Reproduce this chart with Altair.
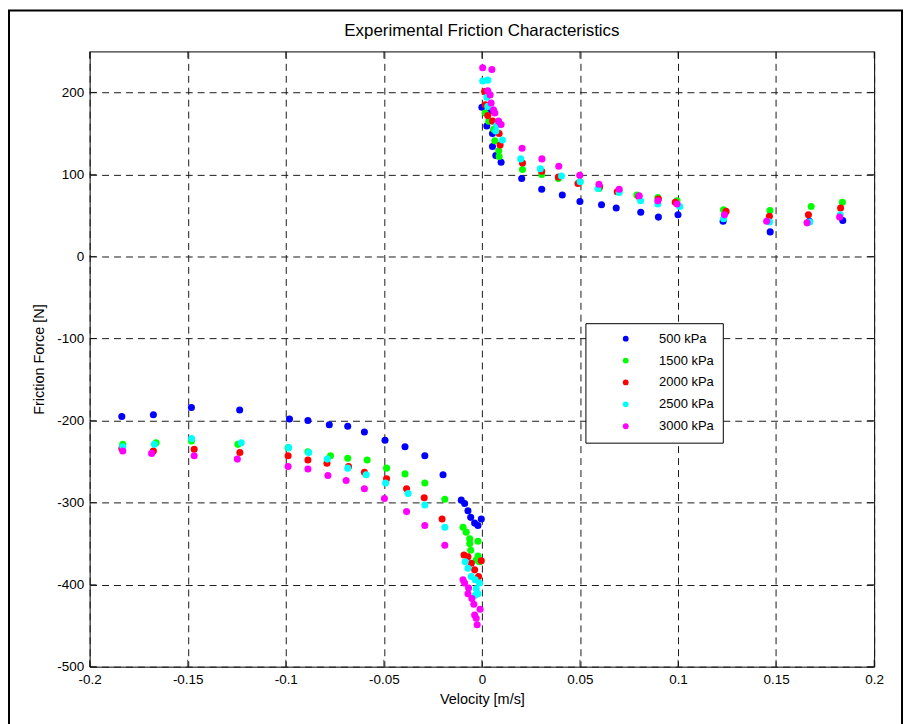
import altair as alt
import pandas as pd

series_names = ["500 kPa", "1500 kPa", "2000 kPa", "2500 kPa", "3000 kPa"]
series_colors = ["#0000FF", "#00FF00", "#FF0000", "#00FFFF", "#FF00FF"]

v_500 = [0.0000, 0.0025, 0.0037, 0.0054, 0.0054, 0.0071, 0.0098, 0.0203, 0.0305, 0.0410, 0.0500, 0.0610,
         0.0685, 0.0810, 0.0900, 0.1000, 0.1230, 0.1470, 0.1670, 0.1840,
         -0.1836, -0.1675, -0.1481, -0.1235, -0.0981, -0.0887, -0.0778, -0.0684, -0.0599, -0.0494,
         -0.0392, -0.0291, -0.0198, -0.0105, -0.0088, -0.0071, -0.0057, -0.0037, -0.0020, -0.0003]
f_500 = [182, 159, 177, 150, 134, 123, 115, 95, 82, 75, 67, 63,
         59, 54, 48, 51, 43, 30, 43, 44,
         -195, -193, -184, -187, -198, -200, -205, -207, -214, -224,
         -232, -243, -266, -297, -301, -310, -318, -325, -328, -320]

v_1500 = [0.0017, 0.0035, 0.0060, 0.0066, 0.0086, 0.0088, 0.0207, 0.0305, 0.0390, 0.0500, 0.0597, 0.0700,
          0.0790, 0.0897, 0.0995, 0.1232, 0.1469, 0.1679, 0.1838,
          -0.1831, -0.1661, -0.1481, -0.1244, -0.0988, -0.0887, -0.0772, -0.0684, -0.0585, -0.0486,
          -0.0392, -0.0291, -0.0189, -0.0096, -0.0080, -0.0062, -0.0062, -0.0057, -0.0020, -0.0020,
          -0.0029, -0.0012]
f_1500 = [175, 165, 155, 141, 129, 122, 106, 100, 95, 91, 83, 80,
          75, 72, 68, 57, 56, 61, 66,
          -229, -227, -225, -229, -233, -238, -243, -246, -248, -258,
          -265, -276, -296, -330, -336, -344, -350, -358, -347, -365,
          -370, -372]

v_2000 = [0.0014, 0.0017, 0.0030, 0.0055, 0.0088, 0.0093, 0.0207, 0.0305, 0.0390, 0.0490, 0.0600, 0.0690,
          0.0800, 0.0900, 0.0986, 0.1245, 0.1466, 0.1665, 0.1829,
          -0.1836, -0.1675, -0.1467, -0.1234, -0.0988, -0.0887, -0.0790, -0.0680, -0.0599, -0.0486,
          -0.0384, -0.0294, -0.0203, -0.0091, -0.0071, -0.0054, -0.0037, -0.0017, -0.0003]
f_2000 = [201, 185, 172, 165, 150, 136, 114, 104, 97, 89, 85, 79,
          73, 70, 66, 55, 49, 51, 59,
          -234, -237, -235, -239, -243, -248, -252, -256, -263, -271,
          -283, -294, -320, -364, -366, -374, -382, -390, -371]

v_2500 = [0.0004, 0.0030, 0.0025, 0.0030, 0.0071, 0.0076, 0.0105, 0.0198, 0.0298, 0.0406, 0.0501, 0.0592,
          0.0700, 0.0809, 0.0897, 0.1009, 0.1232, 0.1467, 0.1672, 0.1827,
          -0.1831, -0.1670, -0.1480, -0.1227, -0.0985, -0.0883, -0.0788, -0.0684, -0.0590, -0.0491,
          -0.0376, -0.0291, -0.0189, -0.0085, -0.0071, -0.0054, -0.0034, -0.0012, -0.0029, -0.0020,
          -0.0034]
f_2500 = [214, 215, 194, 183, 153, 160, 142, 119, 107, 98, 91, 83,
          78, 68, 64, 61, 46, 42, 42, 51,
          -232, -229, -222, -227, -233, -239, -247, -258, -266, -276,
          -289, -303, -330, -372, -380, -390, -394, -398, -405, -411,
          -413]

v_3000 = [0.0004, 0.0051, 0.0030, 0.0042, 0.0047, 0.0059, 0.0066, 0.0085, 0.0098, 0.0205, 0.0306, 0.0392,
          0.0499, 0.0597, 0.0700, 0.0802, 0.0897, 0.0995, 0.1237, 0.1452, 0.1658, 0.1824,
          -0.1831, -0.1684, -0.1467, -0.1247, -0.0988, -0.0887, -0.0785, -0.0692, -0.0599, -0.0497,
          -0.0384, -0.0291, -0.0189, -0.0096, -0.0088, -0.0068, -0.0071, -0.0051, -0.0041, -0.0009,
          -0.0037, -0.0029, -0.0024]
f_3000 = [230, 228, 202, 197, 187, 179, 175, 165, 161, 132, 119, 110,
          99, 88, 82, 74, 68, 64, 51, 43, 41, 48,
          -237, -240, -243, -247, -256, -259, -267, -273, -283, -295,
          -311, -328, -352, -394, -398, -404, -411, -417, -424, -430,
          -437, -441, -449]

x_ticks = [-0.2, -0.15, -0.1, -0.05, 0, 0.05, 0.1, 0.15, 0.2]
y_ticks = [-500, -400, -300, -200, -100, 0, 100, 200]

all_v = [v_500, v_1500, v_2000, v_2500, v_3000]
all_f = [f_500, f_1500, f_2000, f_2500, f_3000]
rows = []
for name, vs, fs in zip(series_names, all_v, all_f):
    for v, f in zip(vs, fs):
        rows.append({"v": v, "f": f, "series": name})
df = pd.DataFrame(rows)

W, H = 788, 618
FONT = "Liberation Sans"
xs = alt.Scale(domain=[-0.2, 0.2], nice=False, zero=False)
ys = alt.Scale(domain=[-500, 250], nice=False, zero=False)

common = dict(grid=True, gridDash=[7, 5], gridColor="#1a1a1a", gridWidth=1, ticks=False,
              domain=False, labelFlush=False, labelFont=FONT, titleFont=FONT,
              labelFontSize=13.5, titleFontSize=14.5, titleFontWeight="normal",
              labelColor="black", titleColor="black")
x_axis = alt.Axis(values=x_ticks, labelExpr="toString(datum.value)", title="Velocity [m/s]",
                  labelPadding=6, titlePadding=6, **common)
y_axis = alt.Axis(values=y_ticks, labelExpr="toString(datum.value)", title="Friction Force [N]",
                  labelPadding=6, titlePadding=10, **common)

points = alt.Chart(df).mark_circle(size=50, opacity=1).encode(
    x=alt.X("v:Q", scale=xs, axis=x_axis),
    y=alt.Y("f:Q", scale=ys, axis=y_axis),
    color=alt.Color("series:N", scale=alt.Scale(domain=series_names, range=series_colors),
                    legend=alt.Legend(title=None, orient="none", legendX=498, legendY=273,
                                      strokeColor="black", fillColor="white", padding=9,
                                      symbolType="circle", symbolSize=34, symbolStrokeWidth=0,
                                      labelFontSize=13, labelFont=FONT, labelColor="black",
                                      rowPadding=8, symbolOffset=25, labelOffset=27,
                                      cornerRadius=0)),
)

xt = pd.DataFrame({"v": x_ticks})
yt = pd.DataFrame({"f": y_ticks})
tick_bottom = alt.Chart(xt).mark_tick(color="black", thickness=1, size=7).encode(
    x=alt.X("v:Q", scale=xs, axis=x_axis), y=alt.value(H - 3.5))
tick_top = alt.Chart(xt).mark_tick(color="black", thickness=1, size=7).encode(
    x=alt.X("v:Q", scale=xs, axis=x_axis), y=alt.value(3.5))
tick_left = alt.Chart(yt).mark_tick(color="black", thickness=1, size=7).encode(
    y=alt.Y("f:Q", scale=ys, axis=y_axis), x=alt.value(3.5))
tick_right = alt.Chart(yt).mark_tick(color="black", thickness=1, size=7).encode(
    y=alt.Y("f:Q", scale=ys, axis=y_axis), x=alt.value(W - 3.5))

frame = alt.Chart(pd.DataFrame({"a": [0]})).mark_rect(
    fillOpacity=0, stroke="black", strokeWidth=2).encode(
    x=alt.value(-81), x2=alt.value(816), y=alt.value(-41), y2=alt.value(700))

chart = alt.layer(frame, tick_bottom, tick_top, tick_left, tick_right, points).properties(
    width=W, height=H,
    title=alt.TitleParams("Experimental Friction Characteristics", fontSize=17, font=FONT,
                          fontWeight="normal", color="black", offset=12, dy=43, frame="group"),
    autosize=alt.AutoSizeParams(type="none"),
    padding={"left": 82, "top": 42, "right": 30, "bottom": 60},
    background="white",
).configure_view(stroke="black", strokeWidth=1, strokeOpacity=1)

chart.save("out.html", embed_options={"renderer": "svg", "actions": False})
